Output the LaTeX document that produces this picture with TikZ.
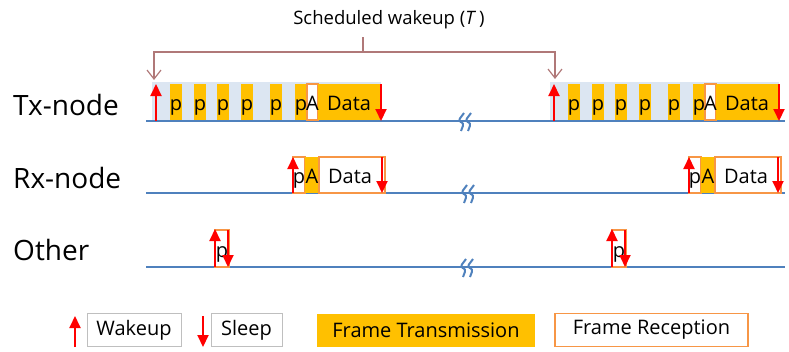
\documentclass[tikz,border=0pt]{standalone}
\usepackage{fontspec}
\setmainfont{Open Sans}
\usetikzlibrary{arrows.meta}
\definecolor{txorange}{HTML}{FFC000}
\definecolor{rxorange}{HTML}{F79646}
\definecolor{awake}{HTML}{DCE6F2}
\definecolor{lineblue}{HTML}{4F81BD}
\definecolor{bracketred}{HTML}{B07878}

\begin{document}
\begin{tikzpicture}[x=1pt, y=-1pt,
    txblk/.style={fill=txorange},
    rxblk/.style={draw=rxorange, line width=1.5pt, fill=white},
    wake/.style={red, line width=2pt, -{Triangle[width=11pt,length=12pt]}},
    timeline/.style={lineblue, line width=2pt},
    lbl/.style={font=\fontsize{20}{20}\selectfont, inner sep=0pt, anchor=base},
    rowlbl/.style={font=\fontsize{28}{28}\selectfont, inner sep=0pt, anchor=base west},
    legbox/.style={minimum height=33pt, inner sep=0pt, font=\fontsize{20}{20}\selectfont},
    brk/.pic={\draw[lineblue, line width=2pt, rounded corners=3pt]
                (0,-9) -- (-6,-1) -- (0,1) -- (-3,9)
                (7,-9) -- (1,-1) -- (7,1) -- (4,9);}]
    \useasboundingbox (0,0) rectangle (789,351);

    \node[rowlbl] (txlbl) at (13,115) {Tx-node};
    \node[rowlbl] (rxlbl) at (13,188) {Rx-node};
    \node[rowlbl] (otherlbl) at (13,260) {Other};

    \fill[awake] (152,82) rectangle (381,121);
    \fill[awake] (550,82) rectangle (779,121);

    \draw[timeline] (146,121) -- (785,121);
    \draw[timeline] (146,193) -- (785,193);
    \draw[timeline] (146,267) -- (785,267);
    \pic at (464,122) {brk};
    \pic at (467,194) {brk};
    \pic at (466,268) {brk};

    \foreach \s in {0,398} {
      \begin{scope}[xshift=\s]
        \foreach \px in {170,194,217,241,270} {
          \fill[txblk] (\px,84) rectangle ++(12,36);
          \node[lbl] (p\px) at (\px+6,110) {p};
        }
        \fill[txblk] (295,84) rectangle (307,120);
        \draw[rxblk, line width=1.2pt] (307,84) rectangle (318,120);
        \fill[txblk] (318,84) rectangle (380,120);
        \node[lbl] (txp) at (301,110) {p};
        \node[lbl] (txa) at (312.5,110) {A};
        \node[lbl] (txdata) at (349,110) {Data};
        \draw[wake] (156,121) -- (156,84);
        \draw[wake] (381,84) -- (381,121);
      \end{scope}
    }

    \foreach \s in {0,396} {
      \begin{scope}[xshift=\s]
        \draw[rxblk] (293,157) rectangle (305,193);
        \fill[txblk] (305,157) rectangle (319,193);
        \draw[rxblk] (319,157) rectangle (385,193);
        \node[lbl] (rxp) at (299,183) {p};
        \node[lbl] (rxa) at (312,183) {A};
        \node[lbl] (rxdata) at (350,183) {Data};
        \draw[wake] (293,193) -- (293,157);
        \draw[wake] (382,157) -- (382,193);
      \end{scope}
    }

    \foreach \s in {0,397} {
      \begin{scope}[xshift=\s]
        \draw[rxblk] (215,230) rectangle (229,267);
        \node[lbl] (otherp) at (222,257) {p};
        \draw[wake] (215,267) -- (215,229);
        \draw[wake] (228,230) -- (228,267);
      \end{scope}
    }

    \node[font=\fontsize{18.5}{18.5}\selectfont] (sched) at (389,20) {Scheduled wakeup (\textit{T}\,)};
    \draw[bracketred, line width=1.2pt, {Straight Barb[length=9pt,width=14pt]}-{Straight Barb[length=9pt,width=14pt]}]
      (154,80) -- (154,52) -- (555,52) -- (555,79);
    \draw[bracketred, line width=1.2pt] (363,37) -- (363,52);

    \draw[wake] (75,347) -- (75,316);
    \node[legbox, draw=gray!50, minimum width=94pt] (wakeup) at (134,330) {Wakeup};
    \draw[wake] (203,316) -- (203,347);
    \node[legbox, draw=gray!50, minimum width=71pt] (sleep) at (246.5,330) {Sleep};
    \node[legbox, fill=txorange, minimum width=218pt] (frametx) at (426,330) {Frame Transmission};
    \node[legbox, rxblk, minimum width=193pt] (framerx) at (651.5,330) {Frame Reception};
  \end{tikzpicture}
\end{document}
